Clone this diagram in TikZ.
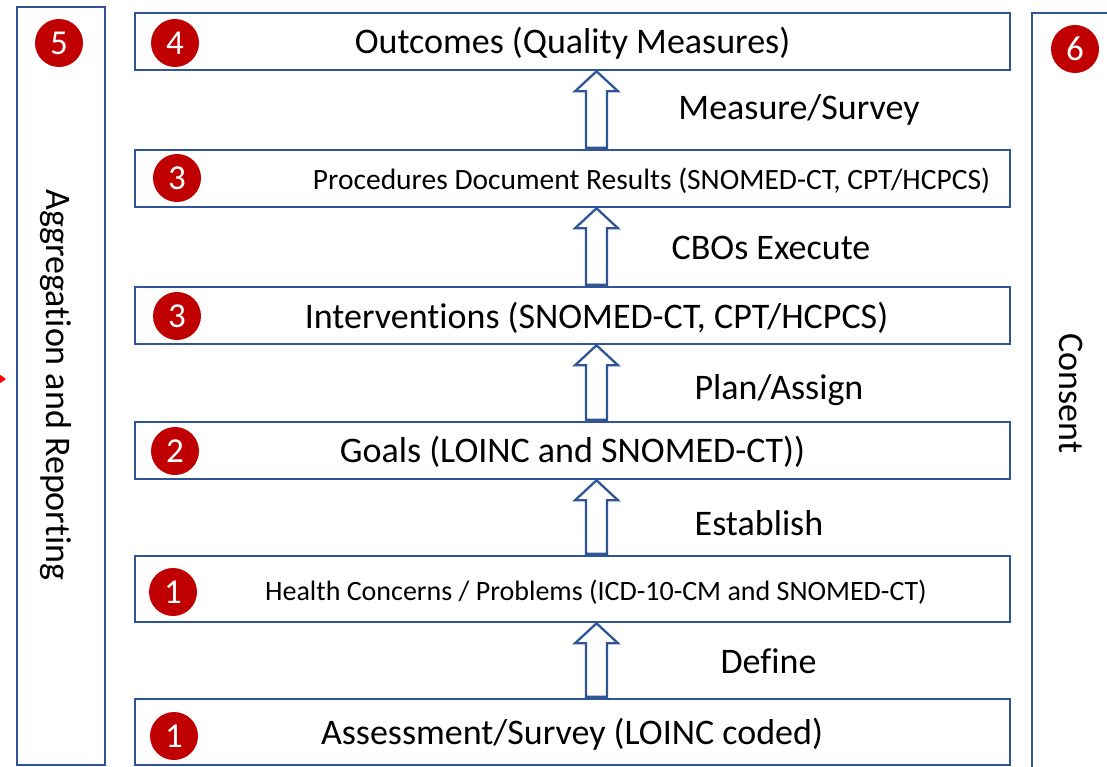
\documentclass[tikz,border=0pt]{standalone}
\usepackage{fontspec}
\setmainfont{Carlito}[Ligatures={NoCommon}]
\usetikzlibrary{calc}
\definecolor{boxblue}{HTML}{2F5597}
\definecolor{badgered}{HTML}{C00000}
\tikzset{
  box/.style={draw=boxblue, line width=2.6pt, fill=white, minimum width=875pt, inner sep=0pt},
  badge/.style={circle, fill=badgered, text=white, minimum size=48pt, inner sep=0pt, font=\fontsize{35}{35}\selectfont},
  bigtxt/.style={inner sep=0pt, font=\fontsize{36}{41}\selectfont},
  midtxt/.style={inner sep=0pt, font=\fontsize{29.5}{34}\selectfont},
  smalltxt/.style={inner sep=0pt, font=\fontsize{28}{33}\selectfont},
  blockarr/.style={draw=boxblue, line width=2.3pt, fill=white, line join=miter},
}
\newcommand{\blockup}[2]{%
  \draw[blockarr] (#2.south -| ax)
     -- ($(#2.south -| ax)+(21.5,20)$)
     -- ($(#2.south -| ax)+(10.5,20)$)
     -- ($(#1.north -| ax)+(10.5,-1)$)
     -- ($(#1.north -| ax)+(-10.5,-1)$)
     -- ($(#2.south -| ax)+(-10.5,20)$)
     -- ($(#2.south -| ax)+(-21.5,20)$)
     -- cycle;}
\begin{document}
\begin{tikzpicture}[x=1pt,y=-1pt]
\clip (0,0) rectangle (1107,767);
\fill[white] (0,0) rectangle (1107,767);
\coordinate (ax) at (596.5,0);
% side boxes
\node[draw=boxblue, line width=2.6pt, minimum width=88pt, minimum height=758pt, inner sep=0pt] (agg) at (61,386) {};
\node[draw=boxblue, line width=2.6pt, minimum width=108pt, minimum height=787pt, inner sep=0pt] (cons) at (1086,406.5) {};
\node[bigtxt, rotate=-90] (aggtxt) at (56,385) {Aggregation and Reporting};
\node[bigtxt, rotate=-90] (constxt) at (1071,393.5) {Consent};
\node[badge] (b5) at (59,43) {5};
\node[badge] (b6) at (1075,49) {6};
% red arrow tip at left edge
\fill[red] (-4,372) -- (6,379) -- (-4,386) -- cycle;
% main boxes
\node[box, minimum height=57pt] (out) at (572.5,41.5) {};
\node[box, minimum height=57pt] (proc) at (572.5,178.5) {};
\node[box, minimum height=57pt] (interv) at (572.5,315.5) {};
\node[box, minimum height=57pt] (goals) at (572.5,450.5) {};
\node[box, minimum height=66pt] (health) at (572.5,589) {};
\node[box, minimum height=66pt] (assess) at (572.5,732) {};
% arrows
\blockup{proc}{out}
\blockup{interv}{proc}
\blockup{goals}{interv}
\blockup{health}{goals}
\blockup{assess}{health}
% badges
\node[badge] (b4) at (175,43) {4};
\node[badge] (b3a) at (177,178) {3};
\node[badge] (b3b) at (177,316) {3};
\node[badge] (b2) at (175,451) {2};
\node[badge] (b1a) at (173,592) {1};
\node[badge] (b1b) at (174,736) {1};
% box texts
\node[bigtxt] (t4) at (572.5,43) {Outcomes (Quality Measures)};
\node[midtxt] (t3a) at (651.5,181) {Procedures Document Results (SNOMED-CT, CPT/HCPCS)};
\node[bigtxt] (t3b) at (596.5,318) {Interventions (SNOMED-CT, CPT/HCPCS)};
\node[bigtxt] (t2) at (572.5,452) {Goals (LOINC and SNOMED-CT))};
\node[smalltxt] (t1a) at (596,592) {Health Concerns / Problems (ICD-10-CM and SNOMED-CT)};
\node[bigtxt] (t1b) at (572,734) {Assessment/Survey (LOINC coded)};
% arrow labels
\node[bigtxt] (l1) at (799,110) {Measure/Survey};
\node[bigtxt] (l2) at (771,248) {CBOs Execute};
\node[bigtxt] (l3) at (779,390) {Plan/Assign};
\node[bigtxt] (l4) at (759,523) {Establish};
\node[bigtxt] (l5) at (768.5,661) {Define};
\end{tikzpicture}
\end{document}
